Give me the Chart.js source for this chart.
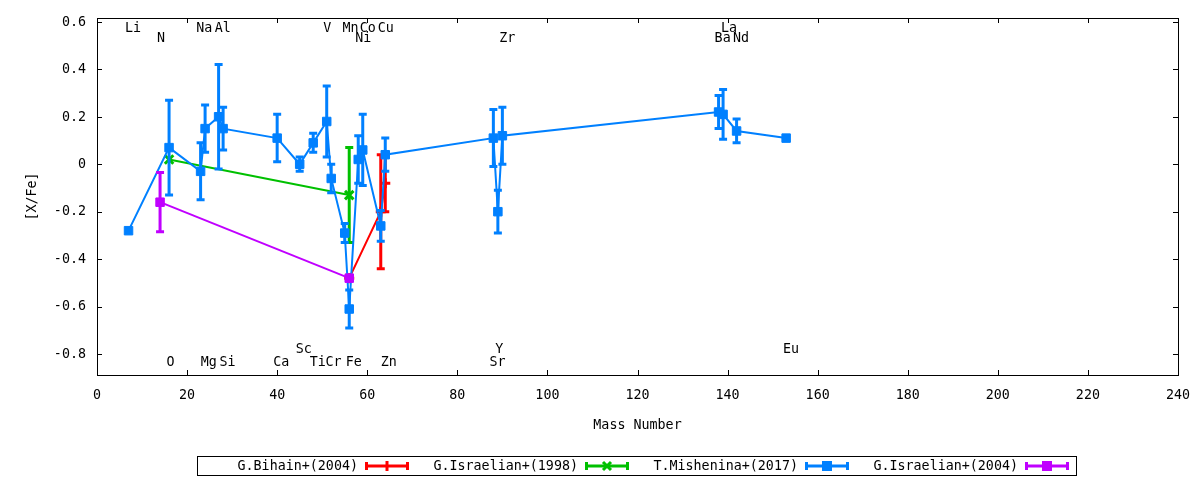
<!DOCTYPE html>
<html>
<head>
<meta charset="utf-8">
<title>[X/Fe] vs Mass Number</title>
<script src="https://cdn.jsdelivr.net/npm/chart.js@4.4.0/dist/chart.umd.min.js"></script>
<style>
  html, body { margin: 0; padding: 0; background: #fff; }
  #wrap { width: 1200px; height: 480px; }
</style>
</head>
<body>
<div id="wrap"><canvas id="abundChart"></canvas></div>
<script>
// G.Bihain+(2004)
var bihainMass = [56, 63, 64];
var bihainVal  = [-0.48, -0.20, -0.08];
var bihainErr  = [0, 0.24, 0.12];

// G.Israelian+(1998)
var isr98Mass = [16, 56];
var isr98Val  = [0.02, -0.13];
var isr98Err  = [0, 0.20];

// T.Mishenina+(2017)
var mishMass = [7, 16, 23, 24, 27, 28, 40, 45, 48, 51, 52, 55, 56, 58, 59, 63, 64, 88, 89, 90, 138, 139, 142, 153];
var mishVal  = [-0.28, 0.07, -0.03, 0.15, 0.20, 0.15, 0.11, 0.0, 0.09, 0.18, -0.06, -0.29, -0.61, 0.02, 0.06, -0.26, 0.04, 0.11, -0.20, 0.12, 0.22, 0.21, 0.14, 0.11];
var mishErr  = [0, 0.20, 0.12, 0.10, 0.22, 0.09, 0.10, 0.03, 0.04, 0.15, 0.06, 0.04, 0.08, 0.10, 0.15, 0.065, 0.07, 0.12, 0.09, 0.12, 0.07, 0.105, 0.05, 0];

// G.Israelian+(2004)
var isr04Mass = [14, 56];
var isr04Val  = [-0.16, -0.48];
var isr04Err  = [0.125, 0];

// element names written in the plot
var labelText = ['Li', 'Na', 'Al', 'V', 'Mn', 'Co', 'Cu', 'La',
                 'N', 'Ni', 'Zr', 'Ba', 'Nd',
                 'Sc', 'Y', 'Eu',
                 'O', 'Mg', 'Si', 'Ca', 'Ti', 'Cr', 'Fe', 'Zn', 'Sr'];
var labelX = [8, 23.8, 27.9, 51.1, 56.3, 60.1, 64.1, 140.3,
              14.2, 59.1, 91.1, 138.9, 143,
              45.9, 89.3, 154.1,
              16.3, 24.8, 29, 40.9, 49, 52.5, 57, 64.8, 88.9];
var labelY = [0.573, 0.573, 0.573, 0.573, 0.573, 0.573, 0.573, 0.573,
              0.531, 0.531, 0.531, 0.531, 0.531,
              -0.78, -0.78, -0.78,
              -0.835, -0.835, -0.835, -0.835, -0.835, -0.835, -0.835, -0.835, -0.835];

var xTicks = [0, 20, 40, 60, 80, 100, 120, 140, 160, 180, 200, 220, 240];
var yTicks = [-0.8, -0.6, -0.4, -0.2, 0, 0.2, 0.4, 0.6];

var FONT = '14.5px "DejaVu Sans Mono"';

function points(xs, ys) {
  return xs.map(function(x, i) { return { x: x, y: ys[i] }; });
}

// the reference font is a narrow mono face, so squeeze it a little
function text(ctx, s, x, y, align, rot) {
  ctx.save();
  ctx.translate(x, y);
  if (rot) ctx.rotate(rot);
  ctx.scale(0.92, 1);
  ctx.font = FONT;
  ctx.fillStyle = '#000';
  ctx.textAlign = align || 'center';
  ctx.textBaseline = 'middle';
  ctx.fillText(s, 0, 0);
  ctx.restore();
}

// error bars, drawn right after each dataset so the stacking order is kept
var errorBars = {
  id: 'errorBars',
  afterDatasetDraw: function(chart, args) {
    var ds = chart.data.datasets[args.index];
    if (!ds.errors) return;
    var ctx = chart.ctx, sx = chart.scales.x, sy = chart.scales.y;
    ctx.save();
    ctx.strokeStyle = ds.borderColor;
    ctx.lineWidth = 3;
    ds.data.forEach(function(p, i) {
      var e = ds.errors[i];
      if (!e) return;
      var x = sx.getPixelForValue(p.x);
      var y1 = sy.getPixelForValue(p.y + e);
      var y2 = sy.getPixelForValue(p.y - e);
      ctx.beginPath();
      ctx.moveTo(x, y1); ctx.lineTo(x, y2);
      ctx.moveTo(x - 4, y1); ctx.lineTo(x + 4, y1);
      ctx.moveTo(x - 4, y2); ctx.lineTo(x + 4, y2);
      ctx.stroke();
    });
    ctx.restore();
  }
};

// box frame with inward ticks on all four sides, tick labels, titles, element names
var frame = {
  id: 'frame',
  afterDraw: function(chart) {
    var ctx = chart.ctx, a = chart.chartArea, sx = chart.scales.x, sy = chart.scales.y;
    ctx.save();
    ctx.strokeStyle = '#000';
    ctx.lineWidth = 1;
    ctx.strokeRect(Math.round(a.left) + 0.5, Math.round(a.top) + 0.5,
                   Math.round(a.right - a.left), Math.round(a.bottom - a.top));
    ctx.beginPath();
    xTicks.forEach(function(v) {
      var x = Math.round(sx.getPixelForValue(v)) + 0.5;
      ctx.moveTo(x, a.bottom); ctx.lineTo(x, a.bottom - 5);
      ctx.moveTo(x, a.top); ctx.lineTo(x, a.top + 5);
    });
    yTicks.forEach(function(v) {
      var y = Math.round(sy.getPixelForValue(v)) + 0.5;
      ctx.moveTo(a.left, y); ctx.lineTo(a.left + 5, y);
      ctx.moveTo(a.right, y); ctx.lineTo(a.right - 5, y);
    });
    ctx.stroke();
    ctx.restore();

    xTicks.forEach(function(v) {
      text(ctx, String(v), sx.getPixelForValue(v), a.bottom + 20, 'center');
    });
    yTicks.forEach(function(v) {
      text(ctx, String(Math.round(v * 10) / 10), a.left - 11, sy.getPixelForValue(v), 'right');
    });
    text(ctx, 'Mass Number', (a.left + a.right) / 2, a.bottom + 50, 'center');
    text(ctx, '[X/Fe]', 32, (a.top + a.bottom) / 2, 'center', -Math.PI / 2);

    labelText.forEach(function(t, i) {
      text(ctx, t, sx.getPixelForValue(labelX[i]), sy.getPixelForValue(labelY[i]), 'center');
    });
  }
};

// gnuplot style key below the plot
var keyBox = {
  id: 'keyBox',
  afterDraw: function(chart) {
    var ctx = chart.ctx;
    ctx.save();
    ctx.strokeStyle = '#000';
    ctx.lineWidth = 1;
    ctx.strokeRect(197.5, 456.5, 879, 19);
    var y = 466;
    [3, 2, 1, 0].forEach(function(k, i) {
      var ds = chart.data.datasets[k];
      var x0 = 365 + 220 * i, x1 = x0 + 44, xm = (x0 + x1) / 2;
      text(ctx, ds.label, x0 - 7, y, 'right');
      ctx.strokeStyle = ds.borderColor;
      ctx.fillStyle = ds.borderColor;
      ctx.lineWidth = 3;
      ctx.beginPath();
      ctx.moveTo(x0, y); ctx.lineTo(x1, y);
      ctx.moveTo(x0 + 1.5, y - 4); ctx.lineTo(x0 + 1.5, y + 4);
      ctx.moveTo(x1 - 1.5, y - 4); ctx.lineTo(x1 - 1.5, y + 4);
      ctx.stroke();
      if (ds.pointStyle === 'rect') {
        ctx.fillRect(xm - 5, y - 5, 10, 10);
      } else if (ds.pointStyle === 'cross') {
        ctx.beginPath(); ctx.moveTo(xm, y - 5); ctx.lineTo(xm, y + 5); ctx.stroke();
      } else {
        ctx.beginPath();
        ctx.moveTo(xm - 4, y - 4); ctx.lineTo(xm + 4, y + 4);
        ctx.moveTo(xm - 4, y + 4); ctx.lineTo(xm + 4, y - 4);
        ctx.stroke();
      }
    });
    ctx.restore();
  }
};

function createChart() {
  var ctx = document.getElementById('abundChart').getContext('2d');
  var myChart = new Chart(ctx, {
    type: 'scatter',
    data: {
      datasets: [{
        label: 'G.Israelian+(2004)',
        data: points(isr04Mass, isr04Val),
        errors: isr04Err,
        showLine: true,
        borderColor: '#c000ff',
        backgroundColor: '#c000ff',
        borderWidth: 2,
        pointStyle: 'rect',
        pointRadius: 6,
        pointBorderWidth: 1,
        order: 1
      }, {
        label: 'T.Mishenina+(2017)',
        data: points(mishMass, mishVal),
        errors: mishErr,
        showLine: true,
        borderColor: '#0080ff',
        backgroundColor: '#0080ff',
        borderWidth: 2,
        pointStyle: 'rect',
        pointRadius: 6,
        pointBorderWidth: 1,
        order: 2
      }, {
        label: 'G.Israelian+(1998)',
        data: points(isr98Mass, isr98Val),
        errors: isr98Err,
        showLine: true,
        borderColor: '#00c000',
        backgroundColor: '#00c000',
        borderWidth: 2,
        pointStyle: 'crossRot',
        pointRadius: 6,
        pointBorderWidth: 3,
        order: 3
      }, {
        label: 'G.Bihain+(2004)',
        data: points(bihainMass, bihainVal),
        errors: bihainErr,
        showLine: true,
        borderColor: '#ff0000',
        backgroundColor: '#ff0000',
        borderWidth: 2,
        pointStyle: 'cross',
        pointRadius: 5,
        pointBorderWidth: 3,
        order: 4
      }]
    },
    options: {
      responsive: true,
      maintainAspectRatio: false,
      animation: false,
      devicePixelRatio: 1,
      layout: { padding: { left: 0, right: 22, top: 18, bottom: 0 } },
      plugins: { legend: { display: false }, tooltip: { enabled: false } },
      scales: {
        x: {
          type: 'linear',
          min: 0,
          max: 240,
          afterBuildTicks: function(s) { s.ticks = xTicks.map(function(v) { return { value: v }; }); },
          afterFit: function(s) { s.height = 105; },
          grid: { display: false, drawTicks: false },
          border: { display: false },
          ticks: { display: false }
        },
        y: {
          type: 'linear',
          min: -0.888,
          max: 0.616,
          afterBuildTicks: function(s) { s.ticks = yTicks.map(function(v) { return { value: v }; }); },
          afterFit: function(s) { s.width = 97; },
          grid: { display: false, drawTicks: false },
          border: { display: false },
          ticks: { display: false }
        }
      }
    },
    plugins: [errorBars, frame, keyBox]
  });
}

document.addEventListener('DOMContentLoaded', createChart);
</script>
</body>
</html>
